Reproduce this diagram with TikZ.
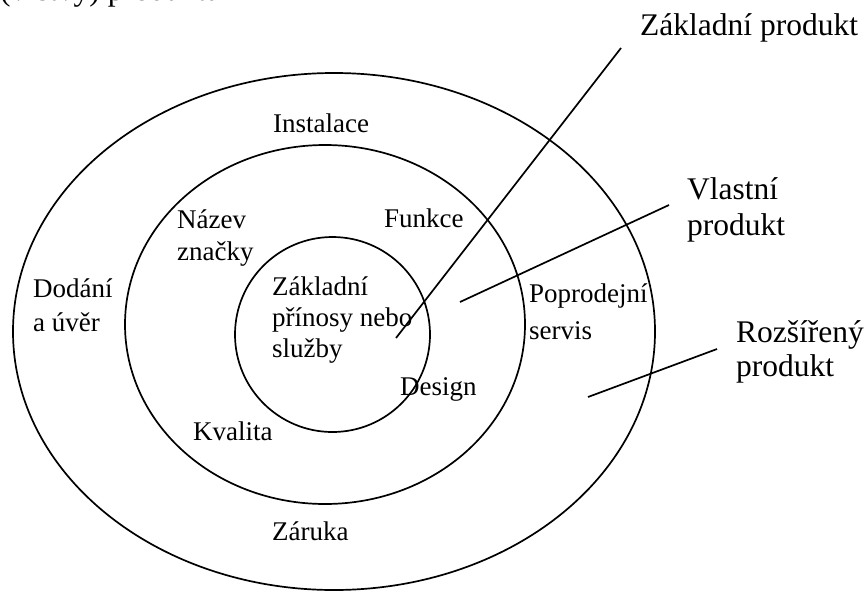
\documentclass[tikz,border=0pt]{standalone}
\usepackage{fontspec}
\setmainfont{Liberation Serif}
\usetikzlibrary{shapes.geometric}
\begin{document}
\begin{tikzpicture}[x=1pt,y=-1pt,
  ring/.style={draw, line width=1.7pt, inner sep=0pt, outer sep=0pt},
  lab/.style={anchor=base west, inner sep=0pt, font=\fontsize{27}{32}\selectfont},
  big/.style={anchor=base west, inner sep=0pt, font=\fontsize{31.5}{36}\selectfont},
  lead/.style={line width=1.7pt}]
\useasboundingbox (0,0) rectangle (866,592);
\clip (0,0) rectangle (866,592);
% rings
\node[ring, ellipse, minimum width=642pt, minimum height=517pt] (outer) at (334,331.5) {};
\node[ring, ellipse, minimum width=400pt, minimum height=359pt] (middle) at (325,324.5) {};
\node[ring, circle, minimum size=195pt] (inner) at (332.5,334.5) {};
% cut-off caption at top
\node[big] (cap) at (0,0) {(vrstvy) produktu};
% outer ring labels
\node[lab] (instalace) at (273,132) {Instalace};
\node[lab] (dodani1) at (33,297) {Dodání};
\node[lab] (dodani2) at (33,331) {a úvěr};
\node[lab] (zaruka) at (272,540) {Záruka};
\node[lab] (poprod1) at (529,302) {Poprodejní};
\node[lab] (poprod2) at (529,339) {servis};
% middle ring labels
\node[lab] (nazev1) at (177,228) {Název};
\node[lab] (nazev2) at (177,260) {značky};
\node[lab] (funkce) at (384,227) {Funkce};
\node[lab] (kvalita) at (193,440) {Kvalita};
\node[lab] (design) at (400,395) {Design};
% core labels
\node[lab] (core1) at (272,295) {Základní};
\node[lab] (core2) at (272,326) {přínosy nebo};
\node[lab] (core3) at (272,357) {služby};
% right-hand labels
\node[big] (zaklad) at (640,35) {Základní produkt};
\node[big] (vlast1) at (687,199) {Vlastní};
\node[big] (vlast2) at (687,235) {produkt};
\node[big] (rozs1) at (736,342) {Rozšířený};
\node[big] (rozs2) at (736,376) {produkt};
% leader lines
\coordinate (zpIn) at (396,338);
\coordinate (zpOut) at (621,48);
\coordinate (vpIn) at (460,302);
\coordinate (vpOut) at (669,205);
\coordinate (rpIn) at (588,397);
\coordinate (rpOut) at (717,349);
\draw[lead] (zpIn) -- (zpOut);
\draw[lead] (vpIn) -- (vpOut);
\draw[lead] (rpIn) -- (rpOut);
\end{tikzpicture}
\end{document}
